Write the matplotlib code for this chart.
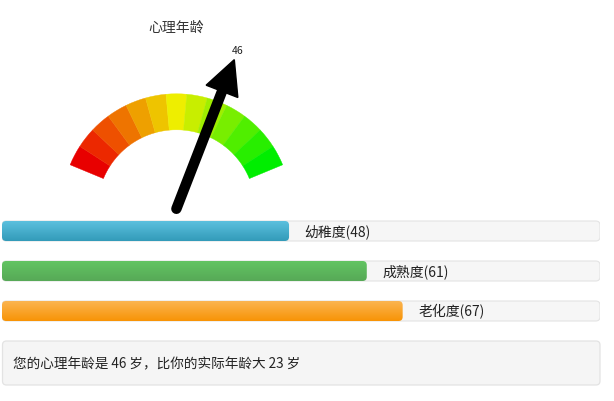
import numpy as np
import matplotlib
matplotlib.use("Agg")
import matplotlib.pyplot as plt
from matplotlib.patches import Wedge, Polygon, FancyBboxPatch

plt.rcParams['font.family'] = ['Noto Sans CJK SC', 'DejaVu Sans']

# gauge data
gauge_title = "心理年龄"
gauge_value = 46
gauge_min, gauge_max = 0, 70
gauge_colors = ["#e80000", "#ec2800", "#ee5000", "#ee7400", "#eea000",
                "#eec400", "#eeee00", "#c8ee00", "#a0ee00", "#78ee00",
                "#50ee00", "#28ee00", "#00ee00"]

# progress bars
bar_names = ["幼稚度", "成熟度", "老化度"]
bar_values = [48, 61, 67]
bar_top = ["#5bc0de", "#62c462", "#fbb450"]
bar_bottom = ["#339bb9", "#57a957", "#f89406"]

real_age_diff = 23
summary = f"您的心理年龄是 {gauge_value} 岁，比你的实际年龄大 {real_age_diff} 岁"

W, H = 614, 402
fig = plt.figure(figsize=(W / 100, H / 100), dpi=100)
ax = fig.add_axes([0, 0, 1, 1])
ax.set_xlim(0, W)
ax.set_ylim(0, H)
ax.axis("off")

# gauge (y axis up, pixels)
cx, cy = 176.4, H - 209.8
r_out, r_in = 115, 79
a_start, a_end = 157.5, 22.5


def to_angle(v):
    return a_start - (v - gauge_min) / (gauge_max - gauge_min) * (a_start - a_end)


n = len(gauge_colors)
step = (a_start - a_end) / n
for i, c in enumerate(gauge_colors):
    t2 = a_start - i * step
    t1 = t2 - step
    ax.add_patch(Wedge((cx, cy), r_out, t1, t2, width=r_out - r_in,
                       facecolor=c, edgecolor=c, lw=0.3))

ax.text(cx, H - 28, gauge_title, ha="center", va="center",
        fontsize=10, color="#333333")

# pointer arrow
ang = np.deg2rad(to_angle(gauge_value))
ux, uy = np.cos(ang), np.sin(ang)
px, py = -uy, ux
length, head_len, head_w = 160, 34, 34
tip = np.array([cx + ux * length, cy + uy * length])
base = tip - np.array([ux, uy]) * head_len
ax.plot([cx, base[0] + ux * 2], [cy, base[1] + uy * 2], color="black",
        lw=7.5, solid_capstyle="round", zorder=5)
ax.add_patch(Polygon([tip, base + np.array([px, py]) * head_w / 2,
                      base - np.array([px, py]) * head_w / 2],
                     closed=True, facecolor="black", edgecolor="black",
                     zorder=6))
ax.text(tip[0] + 3, tip[1] + 10, str(gauge_value), ha="center",
        va="center", fontsize=7.5, color="#222222")

# summary box
ax.add_patch(FancyBboxPatch((2.5, H - 386), 597.5, 44,
                            boxstyle="round,pad=0,rounding_size=4",
                            facecolor="#f5f5f5", edgecolor="#e3e3e3",
                            lw=0.9))
ax.text(13, H - 364, summary, ha="left", va="center", fontsize=9.8,
        color="#222222")

# progress bars axes
bx = fig.add_axes([2 / W, (H - 332) / H, 598 / W, 120 / H])
bx.set_xlim(0, 100)
bx.set_ylim(2.5, -0.5)
bx.axis("off")
asp = (598 / 100) / 40

ypos = np.arange(len(bar_values))
for y in ypos:
    bx.add_patch(FancyBboxPatch((0, y - 0.25), 100, 0.5,
                                boxstyle="round,pad=0,rounding_size=0.7",
                                mutation_aspect=asp, facecolor="#f6f6f6",
                                edgecolor="#e4e4e4", lw=0.8))

bars = bx.barh(ypos, bar_values, height=0.5, color=bar_bottom)
for b, top, bot, name, v in zip(bars, bar_top, bar_bottom, bar_names, bar_values):
    b.set_visible(False)
    x0, y0, w, h = b.get_x(), b.get_y(), b.get_width(), b.get_height()
    clip = FancyBboxPatch((x0, y0), w, h,
                          boxstyle="round,pad=0,rounding_size=0.7",
                          mutation_aspect=asp, facecolor="none",
                          edgecolor="none")
    bx.add_patch(clip)
    c1 = np.array(matplotlib.colors.to_rgb(top))
    c2 = np.array(matplotlib.colors.to_rgb(bot))
    t = np.linspace(0, 1, 32)[:, None]
    grad = (c1 * (1 - t) + c2 * t)[:, None, :]
    im = bx.imshow(grad, extent=(x0, x0 + w, y0 + h, y0), aspect="auto",
                   interpolation="bilinear", zorder=3)
    im.set_clip_path(clip)
    bx.text(v + 2.6, b.get_y() + h / 2, f"{name}({v})", ha="left",
            va="center", fontsize=10, color="#222222", zorder=4)

bx.set_xlim(0, 100)
bx.set_ylim(2.5, -0.5)

fig.savefig("out.png", dpi=100)
